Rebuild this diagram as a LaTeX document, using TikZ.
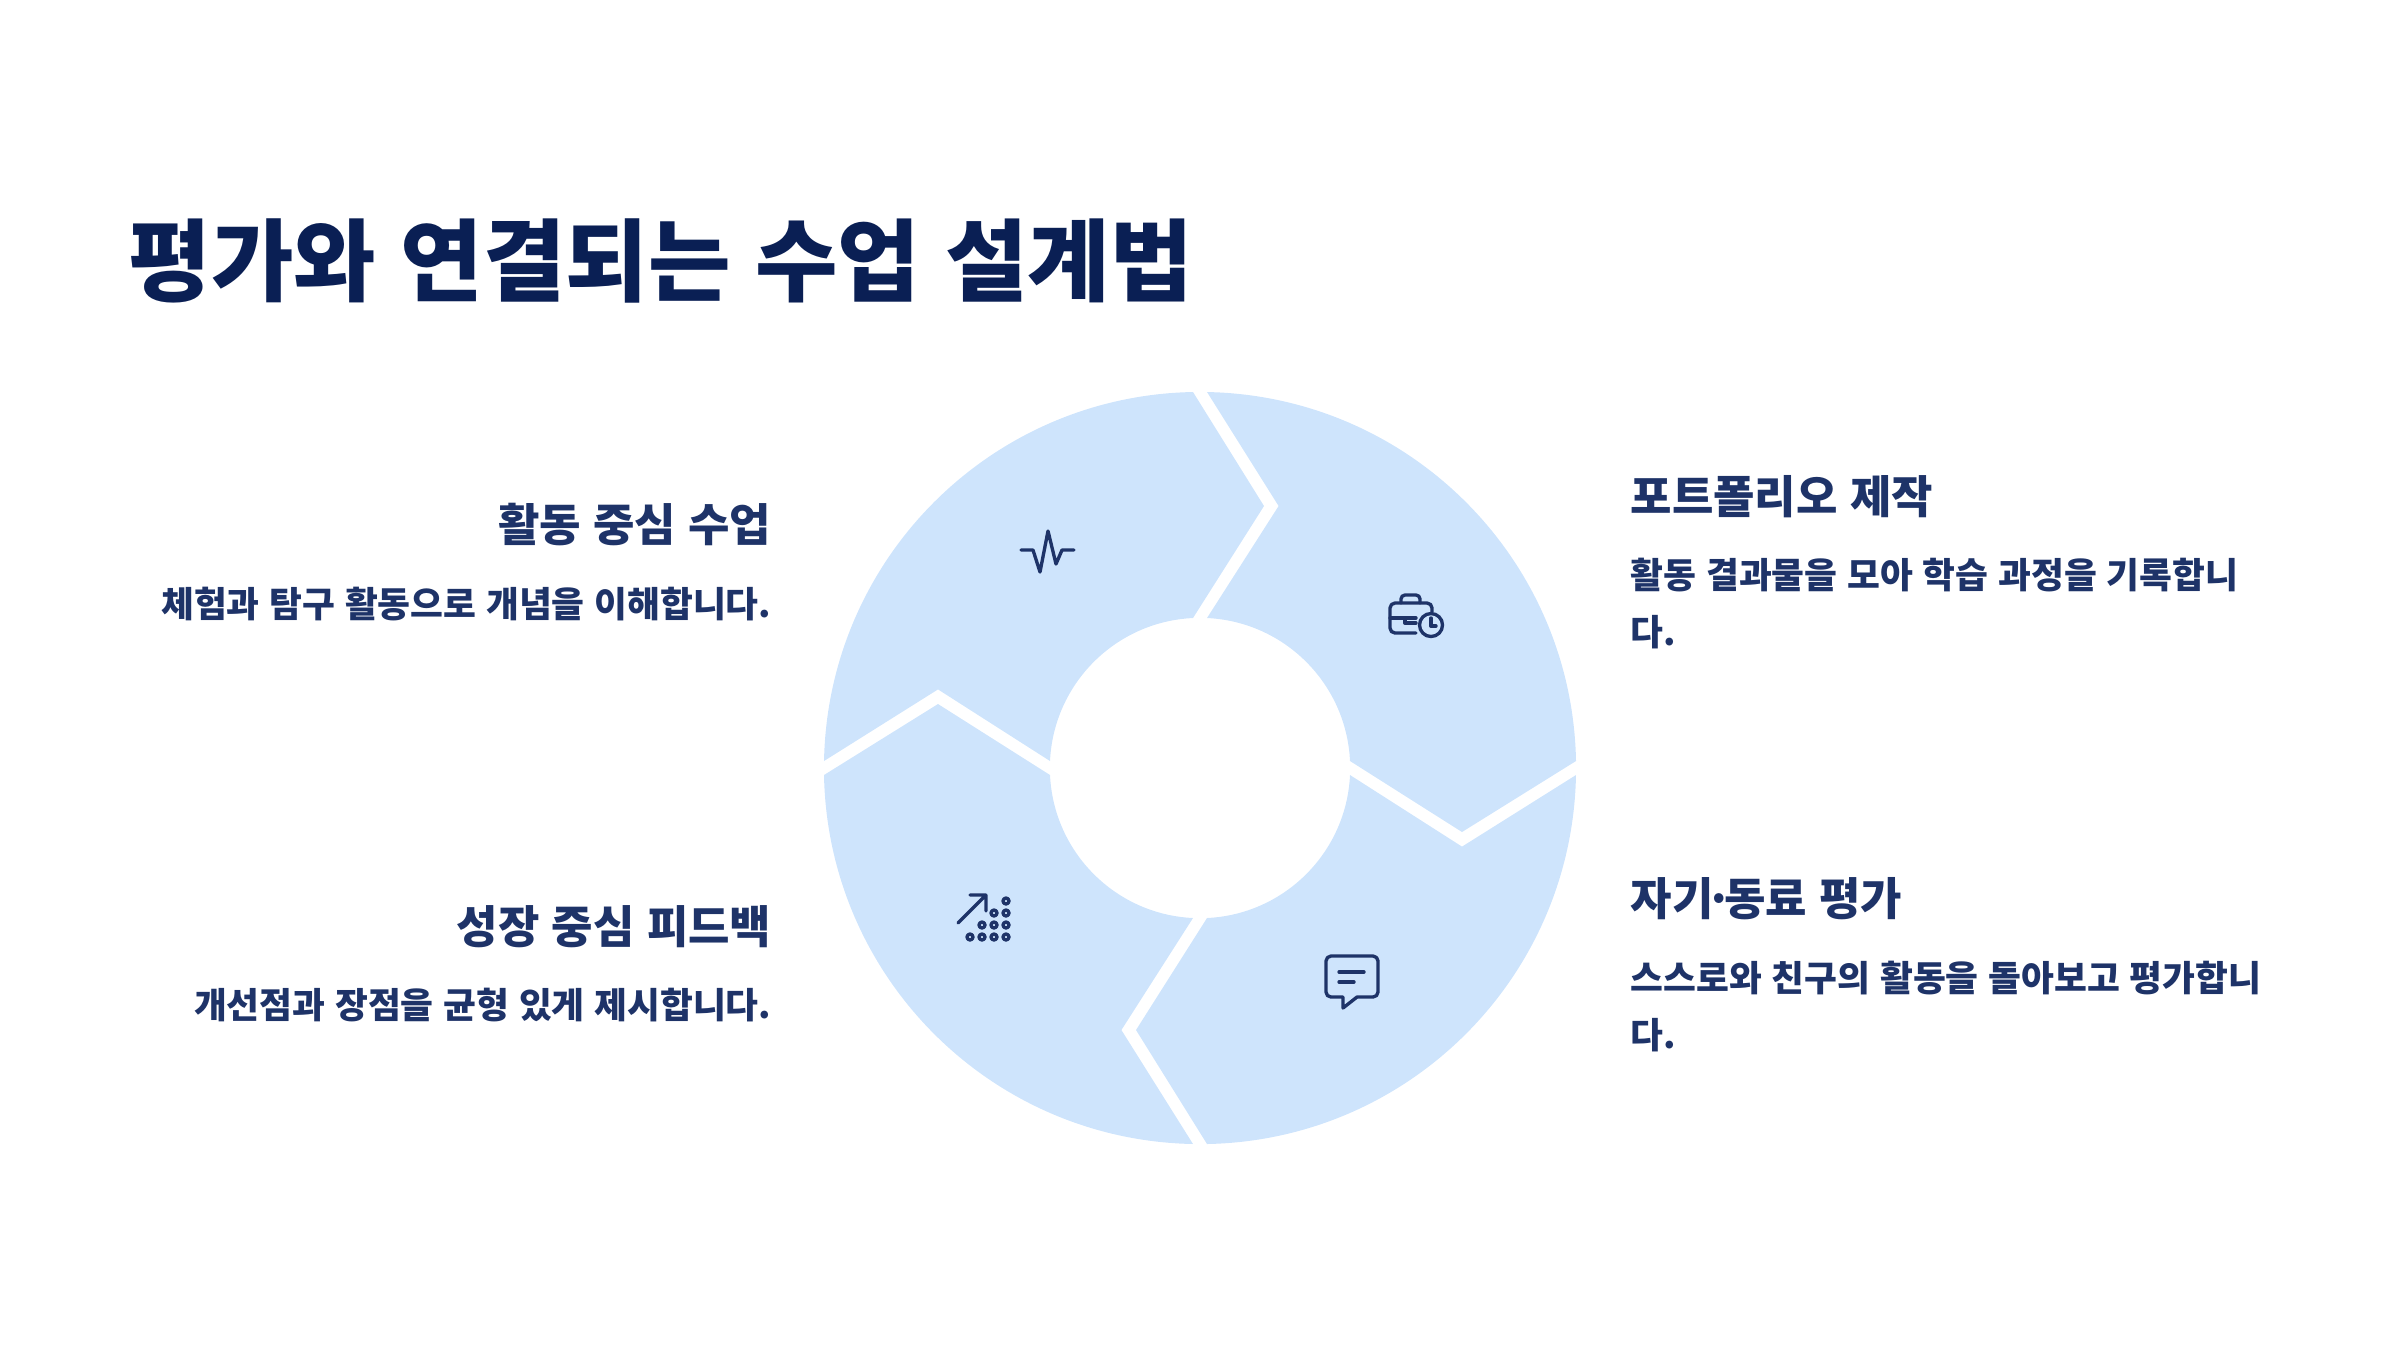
\documentclass[tikz,border=0pt]{standalone}
\usepackage{fontspec}
\setmainfont[WordSpace=1.2]{Noto Sans CJK KR}
\usetikzlibrary{arrows.meta,positioning,calc}
\definecolor{ringblue}{HTML}{CEE4FC}
\definecolor{titlenavy}{HTML}{0A1F54}
\definecolor{textnavy}{HTML}{1E3368}
\tikzset{
  titletext/.style={anchor=base west,inner sep=0pt,text=titlenavy,font=\fontsize{25.5}{30}\selectfont\bfseries},
  headtext/.style={inner sep=0pt,text=textnavy,font=\fontsize{12.8}{16}\selectfont\bfseries},
  desctext/.style={inner sep=0pt,text=textnavy,font=\fontsize{10.15}{16.2}\selectfont\bfseries},
  iconline/.style={draw=textnavy,line width=0.95pt,line cap=round,line join=round}
}
\begin{document}
\begin{tikzpicture}[x=0.01cm,y=-0.01cm]
  \useasboundingbox (0,0) rectangle (2400,1350);
  % title
  \node[titletext] (title) at (128,294) {평가와 연결되는 수업 설계법};
  % ring segments
  \foreach \a in {0,-90,-180,-270}{
    \begin{scope}[shift={(1200,768)},x=0.01cm,y=0.01cm,rotate=\a]
      \fill[ringblue] (7,376)--(78.6,262)--(7,150)
        arc[start angle=87.33,end angle=2.67,radius=150.16]
        --(262,-64)--(376,7)
        arc[start angle=1.07,end angle=88.93,radius=376.07]--cycle;
    \end{scope}
  }
  % left labels
  \node[headtext,anchor=base east] (activityhead) at (772,541) {활동 중심 수업};
  \node[desctext,anchor=base east] (activitydesc) at (772,617) {체험과 탐구 활동으로 개념을 이해합니다.};
  \node[headtext,anchor=base east] (growthhead) at (772,943) {성장 중심 피드백};
  \node[desctext,anchor=base east] (growthdesc) at (772,1018) {개선점과 장점을 균형 있게 제시합니다.};
  % right labels
  \node[headtext,anchor=base west] (portfoliohead) at (1630,513) {포트폴리오 제작};
  \node[desctext,anchor=base west,align=left] (portfoliodesc) at (1630,645) {활동 결과물을 모아 학습 과정을 기록합니\\다.};
  \node[headtext,anchor=base west] (peerhead) at (1630,915) {자기\kern-2.4pt·\kern-2.4pt동료 평가};
  \node[desctext,anchor=base west,align=left] (peerdesc) at (1630,1048) {스스로와 친구의 활동을 돌아보고 평가합니\\다.};
  % pulse icon
  \draw[iconline] (1021,550)--(1033,550)--(1040,572)--(1048,531)--(1056,564)--(1062,550)--(1074,550);
  % briefcase icon
  \draw[iconline] (1432,612)--(1432,608) arc[start angle=0,end angle=-90,radius=5]--(1395,603)
    arc[start angle=-90,end angle=-180,radius=5]--(1390,628) arc[start angle=180,end angle=90,radius=5]--(1416,633);
  \draw[iconline] (1401,603)--(1401,599) arc[start angle=180,end angle=270,radius=4]--(1416,595)
    arc[start angle=270,end angle=360,radius=4]--(1420,603);
  \draw[iconline] (1390,618)--(1405,618)--(1405,623)--(1416,623) (1405,618)--(1416,618);
  \draw[iconline] (1431,625) circle (11.5);
  \draw[iconline] (1431,618)--(1431,626)--(1436,626);
  % chat icon
  \draw[iconline] (1331,956)--(1373,956) arc[start angle=-90,end angle=0,radius=5]--(1378,992)
    arc[start angle=0,end angle=90,radius=5]--(1357,997)--(1343,1008)--(1343,997)--(1331,997)
    arc[start angle=90,end angle=180,radius=5]--(1326,961) arc[start angle=180,end angle=270,radius=5]--cycle;
  \draw[iconline] (1339,972)--(1364,972) (1339,982)--(1354,982);
  % growth icon
  \draw[iconline] (958,923)--(986,895) (970,895)--(986,895)--(986,911);
  \foreach \x/\y in {970/937,982/937,994/937,1006/937,982/925,994/925,1006/925,994/913,1006/913,1006/901}{
    \draw[iconline] (\x,\y) circle (3);
  }
\end{tikzpicture}
\end{document}
